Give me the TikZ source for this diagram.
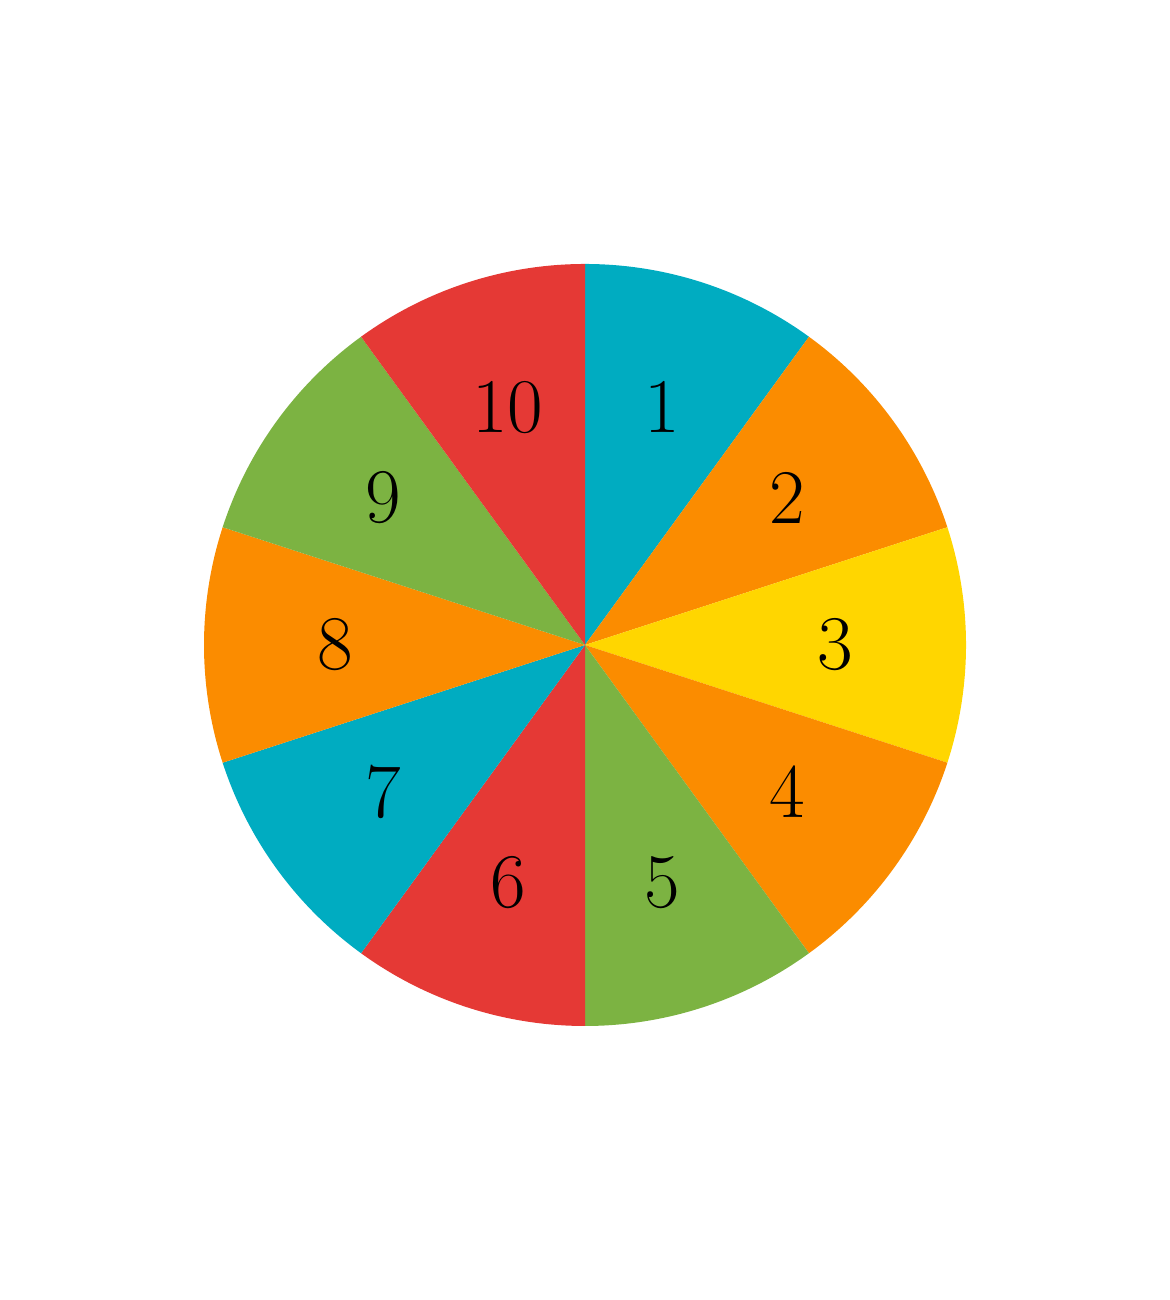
\documentclass[tikz,border=0pt]{standalone}
\usetikzlibrary{calc}
\definecolor{wcyan}{HTML}{00ACC1}
\definecolor{worange}{HTML}{FB8C00}
\definecolor{wyellow}{HTML}{FFD600}
\definecolor{wgreen}{HTML}{7CB342}
\definecolor{wred}{HTML}{E53935}

\begin{document}
\begin{tikzpicture}[sector/.style={line width=0pt},
  digit/.style={font=\fontsize{22}{26}\selectfont,text=black}]
\useasboundingbox (0,0) rectangle (11.7,13);
\coordinate (O) at (5.85,6.55);
\foreach \c [count=\i] in {wcyan,worange,wyellow,worange,wgreen,wred,wcyan,worange,wgreen,wred} {
  \fill[\c,sector] (O) -- ($(O)+(126-36*\i:3.81)$) arc[start angle=126-36*\i, end angle=90-36*\i, radius=3.81] -- cycle;
  \node[digit] (n\i) at ($(O)+(108-36*\i:2.5)$) {\i};
}
\end{tikzpicture}
\end{document}
